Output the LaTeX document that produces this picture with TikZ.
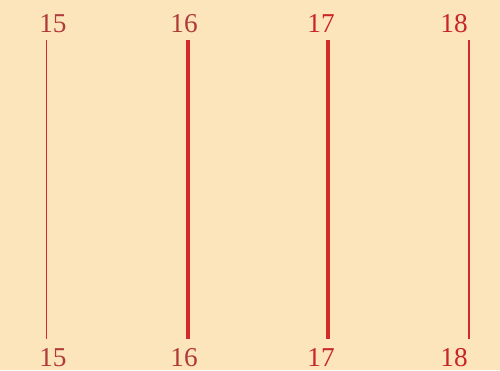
\documentclass[tikz,border=0pt]{standalone}
\usepackage{tikz}
\usepackage{fontspec}
\setmainfont{Liberation Serif}

\definecolor{paper}{HTML}{FCE5BB}
\definecolor{rulered}{HTML}{D42A2A}
\definecolor{darklabel}{HTML}{B03A3A}
\definecolor{brightlabel}{HTML}{C82626}

\tikzset{
  pagelabel/.style={font=\fontsize{15.5}{18}\selectfont, inner sep=0pt, anchor=base},
  pagerule/.style={draw=rulered}
}

\begin{document}
\begin{tikzpicture}[x=0.02cm, y=-0.02cm]

% Background (fixes the bounding box)
\fill[paper] (0,0) rectangle (500,370);

% --- Columns: number / rule x / label x / rule width / label colour ---
\foreach \num/\rx/\lx/\rw/\col in {15/46.5/53/1.1pt/darklabel,
                                  16/188/184/2.1pt/darklabel,
                                  17/328/321/2.1pt/brightlabel,
                                  18/469/454/1.1pt/brightlabel}{
  \node[pagelabel, text=\col] (top\num) at (\lx,32) {\num};
  \node[pagelabel, text=\col] (bot\num) at (\lx,366) {\num};
  \coordinate (a\num) at (\rx,40);
  \coordinate (b\num) at (\rx,339);
  \draw[pagerule, line width=\rw] (a\num) -- (b\num);
}

\end{tikzpicture}
\end{document}
